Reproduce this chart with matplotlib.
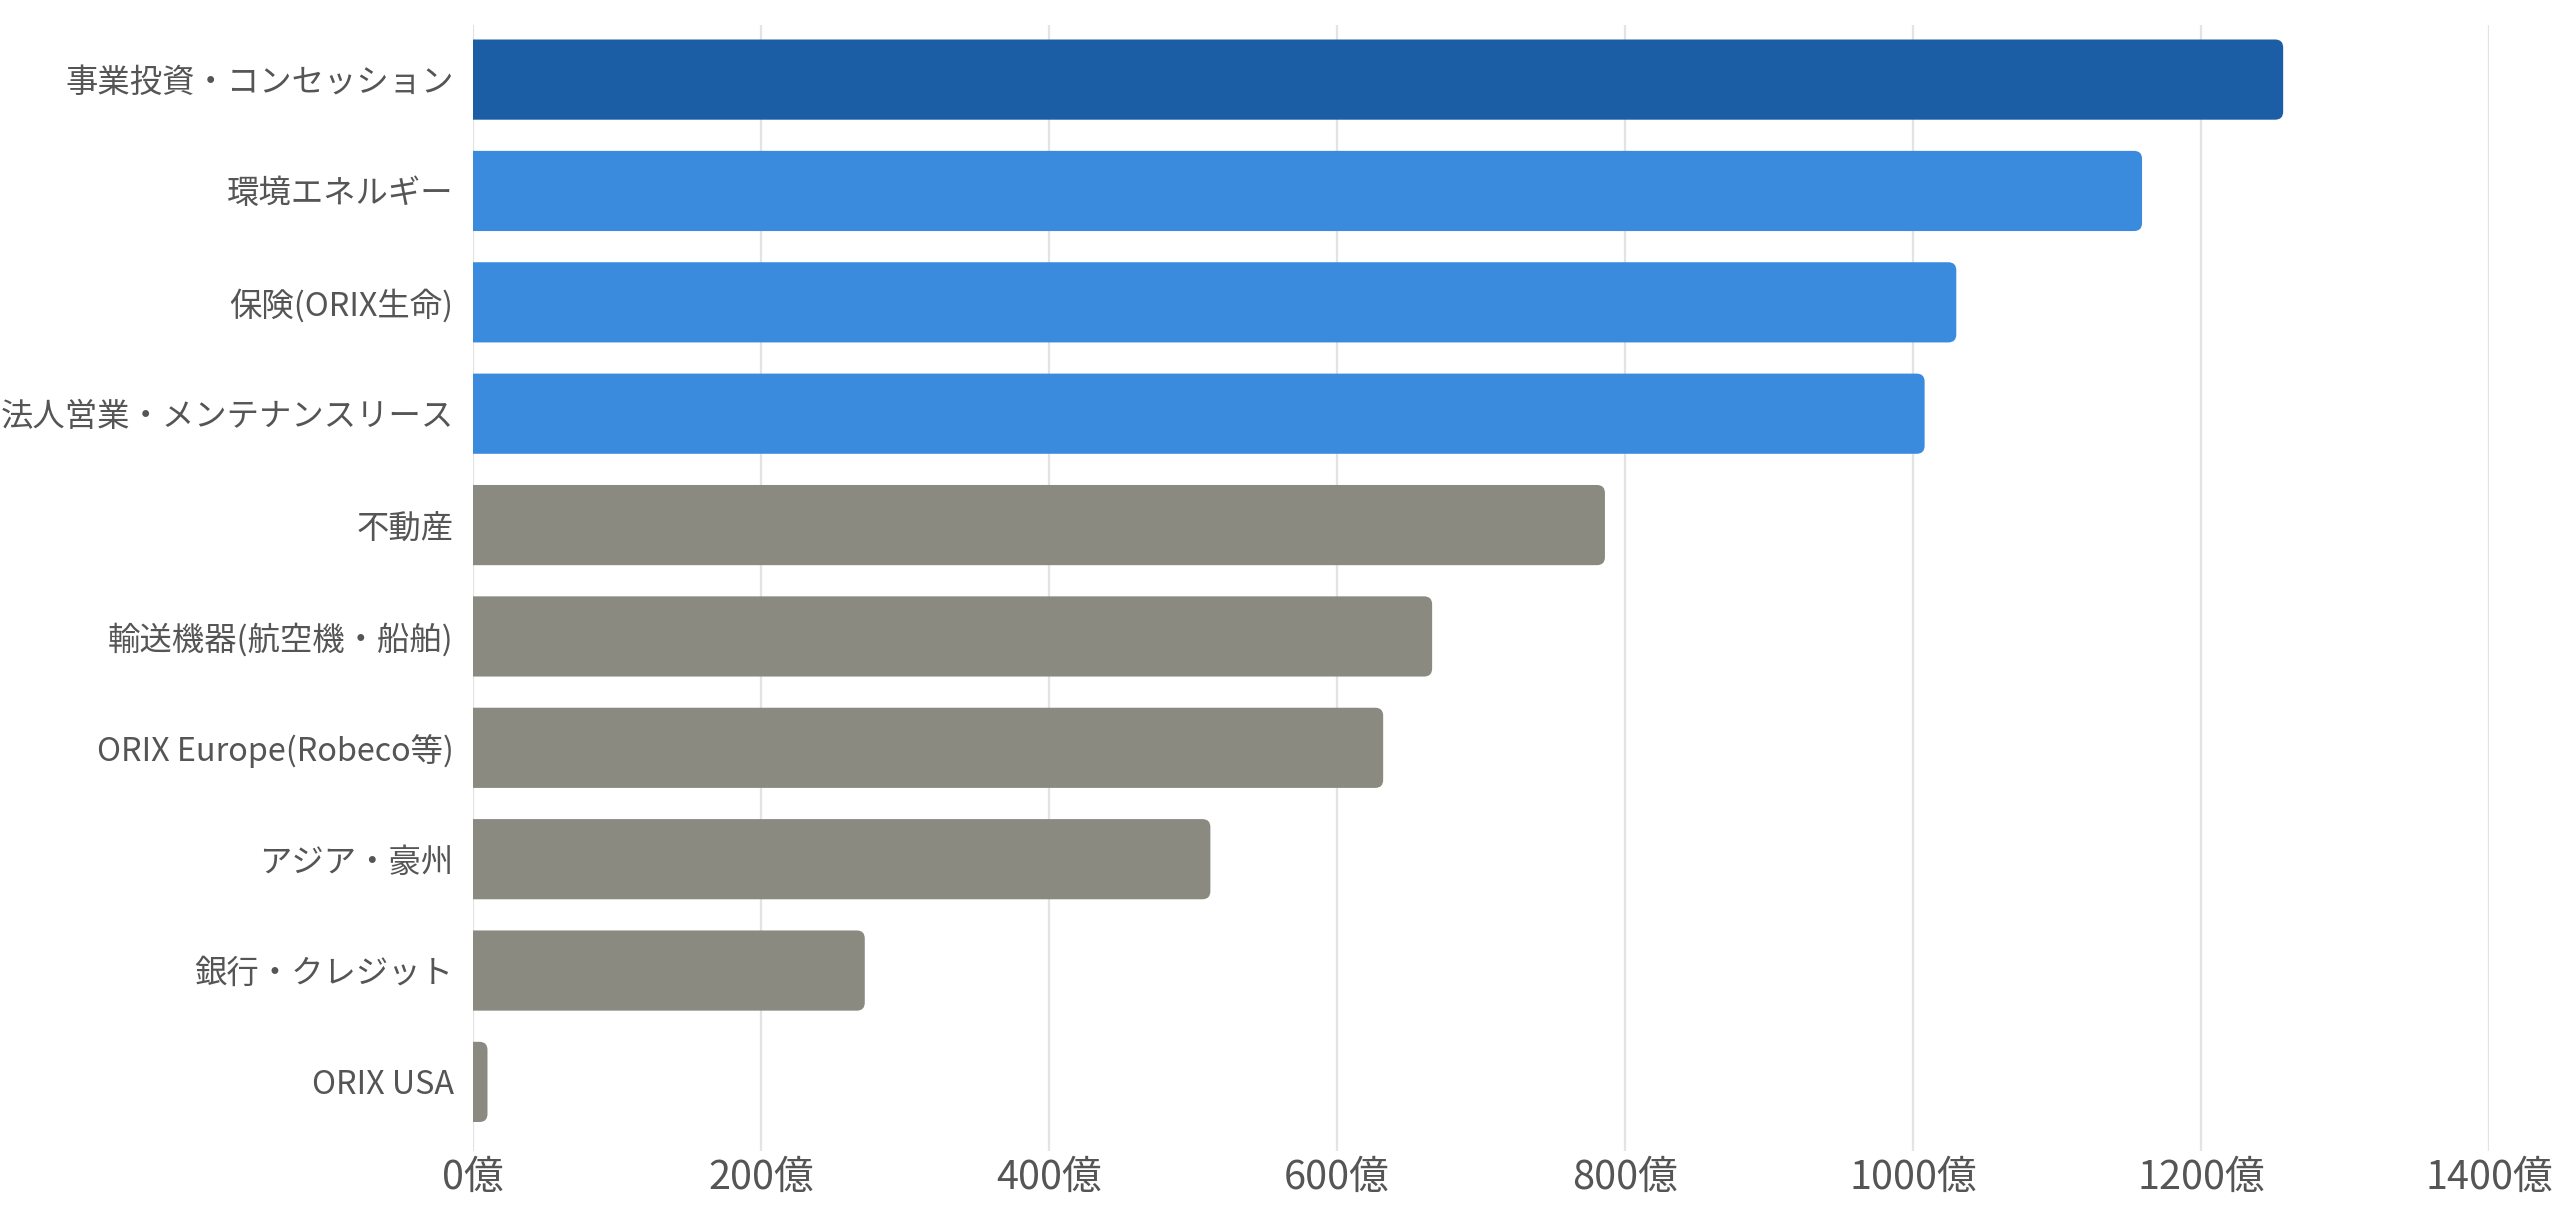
import matplotlib
matplotlib.use("Agg")

import matplotlib.pyplot as plt
from matplotlib.patches import FancyBboxPatch

plt.rcParams["font.family"] = ["Noto Sans CJK JP", "DejaVu Sans"]

# ── data ────────────────────────────────────────────────────────────
segments = [
    "事業投資・コンセッション",
    "環境エネルギー",
    "保険(ORIX生命)",
    "法人営業・メンテナンスリース",
    "不動産",
    "輸送機器(航空機・船舶)",
    "ORIX Europe(Robeco等)",
    "アジア・豪州",
    "銀行・クレジット",
    "ORIX USA",
]
profit = [1257, 1159, 1030, 1008, 786, 666, 632, 512, 272, 10]
groups = ["top", "high", "high", "high", "low", "low", "low", "low", "low", "low"]
x_ticks = [0, 200, 400, 600, 800, 1000, 1200, 1400]

GROUP_COLORS = {"top": "#1B5EA5", "high": "#3A8ADE", "low": "#8A8A81"}
TEXT_COLOR = "#555555"
GRID_COLOR = "#E3E3E3"

fig = plt.figure(figsize=(25.6, 12.09), dpi=100)
fig.patch.set_facecolor("white")
ax = fig.add_axes([0.1848, 0.0480, 0.7875, 0.9313])

ypos = list(range(len(segments)))
bars = ax.barh(ypos, profit, height=0.72,
               color=[GROUP_COLORS[g] for g in groups], zorder=2)

ax.set_xlim(0, 1400)
ax.set_ylim(len(segments) - 1 + 0.62, -0.49)

# rounded right end: swap each bar for a rounded box whose left end
# sits past x=0, so the axes clip it square
fig.canvas.draw()
px_per_x = ax.transData.transform((1, 0))[0] - ax.transData.transform((0, 0))[0]
px_per_y = abs(ax.transData.transform((0, 1))[1] - ax.transData.transform((0, 0))[1])
radius_px = 8
rx = radius_px / px_per_x
aspect = px_per_x / px_per_y
for b in bars:
    x0, y0 = b.get_x(), b.get_y()
    w, h = b.get_width(), b.get_height()
    c = b.get_facecolor()
    b.set_visible(False)
    ax.add_patch(FancyBboxPatch((x0 - 2 * rx, y0), w + 2 * rx, h,
                                boxstyle=f"round,pad=0,rounding_size={rx}",
                                mutation_aspect=aspect,
                                facecolor=c, edgecolor="none", zorder=2))

ax.set_xticks(x_ticks)
ax.set_xticklabels([f"{t}億" for t in x_ticks])
ax.set_yticks(ypos)
ax.set_yticklabels(segments)

ax.tick_params(axis="y", length=0, pad=14, labelsize=23.3, labelcolor=TEXT_COLOR)
ax.tick_params(axis="x", length=0, pad=5, labelsize=28.5, labelcolor=TEXT_COLOR)

ax.grid(axis="x", color=GRID_COLOR, linewidth=1.6, zorder=0)
ax.set_axisbelow(True)
for s in ax.spines.values():
    s.set_visible(False)

fig.savefig("out.png", dpi=100, facecolor="white")
